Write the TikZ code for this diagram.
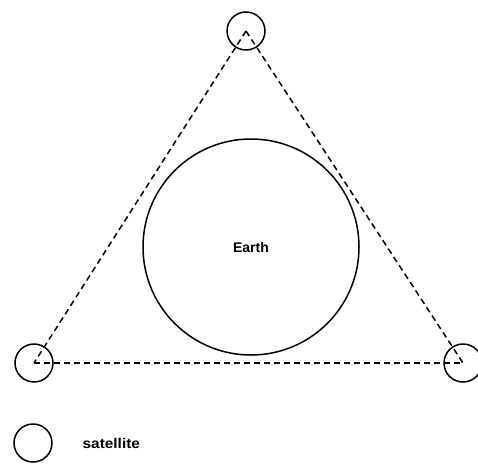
\documentclass[tikz,border=0pt]{standalone}
\usepackage{fontspec}
\setsansfont{Liberation Sans}
\usetikzlibrary{positioning}

\begin{document}
\begin{tikzpicture}[x=1pt,y=-1pt,
            sat/.style={circle,draw=black,line width=1.5pt,inner sep=0pt,minimum size=38pt},
            planet/.style={circle,draw=black,line width=1.5pt,inner sep=0pt,minimum size=216pt,
                           font=\sffamily\bfseries\fontsize{14}{16}\selectfont},
            link/.style={draw=black,line width=1.5pt,dash pattern=on 6pt off 4pt}]
          \useasboundingbox (0,0) rectangle (478,463);
          \node[planet] (earth) at (251,247) {Earth};
          \node[sat] (top) at (246,31) {};
          \node[sat] (left) at (34,363) {};
          \node[sat] (right) at (463,363) {};
          \draw[link] (top.center) -- (left.center);
          \draw[link] (top.center) -- (right.center);
          \draw[link] (left.center) -- (right.center);
          % legend
          \node[sat] (key) at (33,443) {};
          \node[right=26pt of key,xscale=1.1,font=\sffamily\bfseries\fontsize{14}{16}\selectfont] (keytext) {satellite};
        \end{tikzpicture}
\end{document}
